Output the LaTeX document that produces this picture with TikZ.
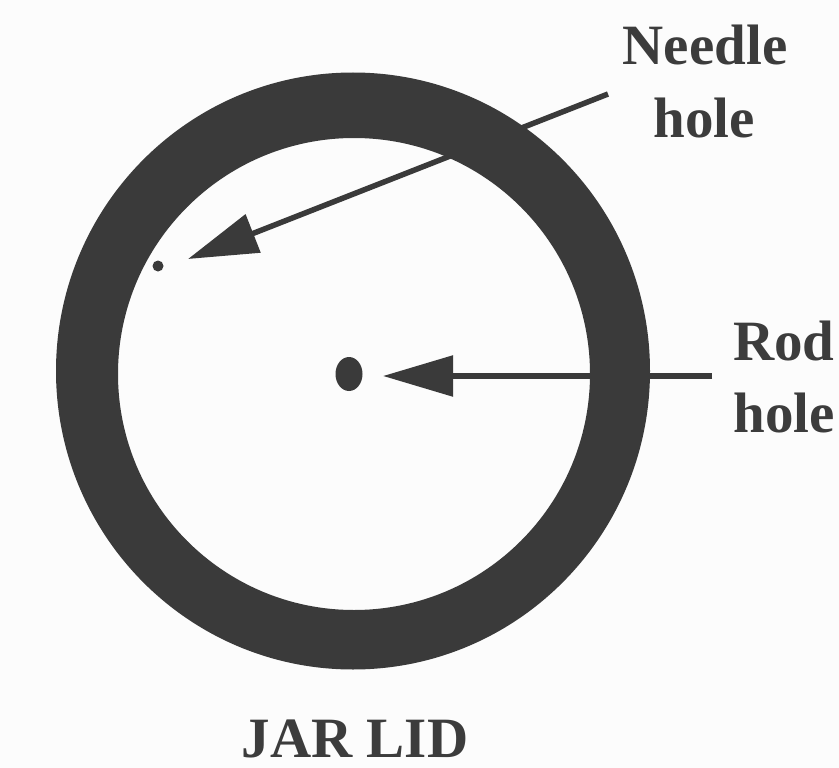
\documentclass[tikz,border=0pt]{standalone}
\usepackage{fontspec}
\setmainfont{Liberation Serif}
\usetikzlibrary{arrows.meta,shapes.geometric}
\definecolor{ink}{HTML}{3A3A3A}
\definecolor{txt}{HTML}{3C3C3C}
\definecolor{paper}{HTML}{FCFCFC}
\tikzset{
  lbl/.style={text=txt, font=\fontsize{57}{57}\selectfont\bfseries, inner sep=0pt, anchor=base},
  hole/.style={fill=ink, draw=none, inner sep=0pt},
  pointer/.style={draw=ink, line width=5.5pt, -{Triangle[length=70pt,width=40pt]}},
}
\begin{document}
\begin{tikzpicture}[x=1pt,y=-1pt]
\useasboundingbox[fill=paper] (0,0) rectangle (839,768);
% ring
\fill[ink, even odd rule] (353,371) ellipse [x radius=297, y radius=298.5]
  (354,374) circle [radius=236];
% holes
\node[hole, circle, minimum size=11pt] (needle) at (158,266) {};
\node[hole, ellipse, minimum width=27pt, minimum height=34pt] (rod) at (349,374) {};
% labels
\node[lbl] (needle1) at (705,65) {Needle};
\node[lbl] (needle2) at (704,137) {hole};
\node[lbl] (rod1) at (784,360) {Rod};
\node[lbl] (rod2) at (784,432) {hole};
\node[lbl] (title) at (355,757) {JAR LID};
% arrows
\coordinate (nstart) at (608,94);
\coordinate (ntip) at (188,259);
\coordinate (rstart) at (712,376);
\coordinate (rtip) at (383,376);
\draw[pointer] (nstart) -- (ntip);
\draw[pointer] (rstart) -- (rtip);
\end{tikzpicture}
\end{document}
